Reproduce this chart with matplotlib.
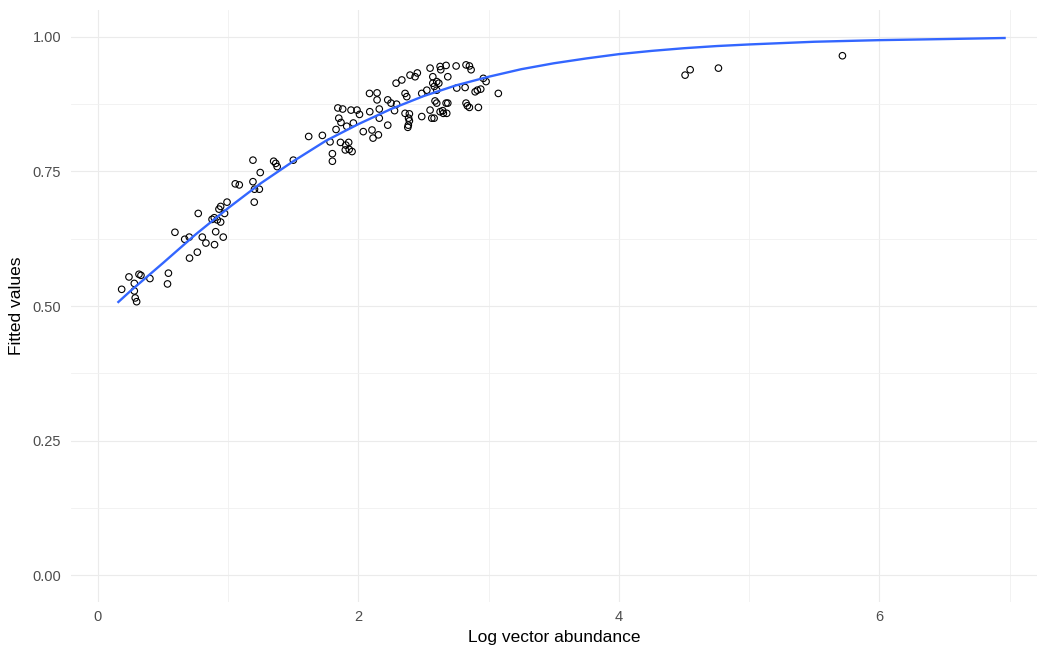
import numpy as np
import matplotlib
matplotlib.use("Agg")
import matplotlib.pyplot as plt
from matplotlib.ticker import MultipleLocator

# ====================================
# DATA
# ====================================

log_abundance = [
    0.182, 0.238, 0.279, 0.279, 0.286, 0.297, 0.315, 0.330, 0.399, 0.541,
    0.534, 0.591, 0.666, 0.701, 0.703, 0.763, 0.801, 0.829, 0.895, 0.904,
    0.962, 0.770, 0.876, 0.893, 0.916, 0.942, 0.929, 0.942, 0.972, 0.991,
    1.054, 1.085, 1.190, 1.190, 1.246, 1.202, 1.239, 1.200, 1.349, 1.365,
    1.376, 1.500, 1.618, 1.723, 1.782, 1.800, 1.800, 1.828, 1.842, 1.879,
    1.849, 1.866, 1.910, 1.943, 1.989, 2.008, 1.961, 1.862, 1.903, 1.925,
    1.899, 1.929, 1.951, 2.037, 2.087, 2.104, 2.112, 2.153, 2.085, 2.143,
    2.143, 2.160, 2.160, 2.225, 2.225, 2.250, 2.277, 2.293, 2.289, 2.333,
    2.358, 2.371, 2.358, 2.391, 2.385, 2.391, 2.383, 2.379, 2.396, 2.435,
    2.452, 2.486, 2.486, 2.525, 2.550, 2.550, 2.563, 2.581, 2.571, 2.571,
    2.583, 2.601, 2.601, 2.617, 2.627, 2.632, 2.673, 2.686, 2.588, 2.601,
    2.627, 2.647, 2.652, 2.673, 2.686, 2.678, 2.750, 2.755, 2.819, 2.826,
    2.852, 2.865, 2.826, 2.836, 2.852, 2.896, 2.913, 2.939, 2.921, 2.959,
    2.980, 3.074, 4.508, 4.547, 4.764, 5.716,
]

fitted_values = [
    0.531, 0.554, 0.542, 0.528, 0.515, 0.508, 0.559, 0.557, 0.551, 0.561,
    0.541, 0.637, 0.624, 0.628, 0.589, 0.600, 0.628, 0.617, 0.614, 0.638,
    0.628, 0.672, 0.661, 0.664, 0.660, 0.656, 0.680, 0.685, 0.672, 0.693,
    0.727, 0.725, 0.771, 0.731, 0.748, 0.717, 0.717, 0.693, 0.769, 0.765,
    0.759, 0.771, 0.815, 0.817, 0.805, 0.783, 0.769, 0.828, 0.868, 0.866,
    0.849, 0.841, 0.834, 0.864, 0.864, 0.856, 0.840, 0.804, 0.799, 0.804,
    0.790, 0.791, 0.787, 0.824, 0.861, 0.827, 0.812, 0.818, 0.895, 0.896,
    0.883, 0.866, 0.849, 0.836, 0.883, 0.877, 0.863, 0.875, 0.914, 0.920,
    0.895, 0.889, 0.858, 0.857, 0.849, 0.844, 0.836, 0.832, 0.929, 0.926,
    0.933, 0.852, 0.895, 0.901, 0.942, 0.864, 0.849, 0.849, 0.926, 0.914,
    0.908, 0.917, 0.901, 0.914, 0.945, 0.939, 0.947, 0.926, 0.881, 0.877,
    0.861, 0.863, 0.858, 0.877, 0.877, 0.858, 0.946, 0.905, 0.906, 0.948,
    0.946, 0.939, 0.877, 0.872, 0.869, 0.898, 0.901, 0.903, 0.869, 0.923,
    0.917, 0.895, 0.929, 0.939, 0.942, 0.965,
]

# smoothed trend line
trend_x = [0.15, 0.25, 0.5, 0.75, 1.0, 1.25, 1.5, 1.75, 2.0, 2.25, 2.5,
           2.75, 3.0, 3.25, 3.5, 3.75, 4.0, 4.25, 4.5, 4.75, 5.0, 5.5,
           6.0, 6.5, 6.97]
trend_y = [0.506, 0.528, 0.580, 0.633, 0.682, 0.728, 0.769, 0.807, 0.838,
           0.866, 0.890, 0.910, 0.926, 0.940, 0.951, 0.960, 0.968, 0.974,
           0.979, 0.983, 0.986, 0.991, 0.994, 0.996, 0.998]

# ====================================
# PLOT
# ====================================

plt.rcParams['font.family'] = ['Liberation Sans', 'DejaVu Sans']

fig = plt.figure(figsize=(10.39, 6.53), dpi=100)
ax = fig.add_axes([71 / 1039, 51 / 653, 966 / 1039, 592 / 653])

ax.scatter(log_abundance, fitted_values, s=22, facecolors='none',
           edgecolors='black', linewidths=0.8, zorder=3)
ax.plot(trend_x, trend_y, color='#3366FF', linewidth=1.7, zorder=4,
        solid_capstyle='butt')

ax.set_xlim(-0.207, 7.21)
ax.set_ylim(-0.05, 1.05)

ax.xaxis.set_major_locator(MultipleLocator(2))
ax.xaxis.set_minor_locator(MultipleLocator(1))
ax.yaxis.set_major_locator(MultipleLocator(0.25))
ax.yaxis.set_minor_locator(MultipleLocator(0.125))
ax.set_yticks([0, 0.25, 0.5, 0.75, 1.0])
ax.set_yticklabels(['0.00', '0.25', '0.50', '0.75', '1.00'])

ax.grid(which='major', color='#EBEBEB', linewidth=0.8, zorder=0)
ax.grid(which='minor', color='#F0F0F0', linewidth=0.6, zorder=0)
ax.set_axisbelow(True)

for spine in ax.spines.values():
    spine.set_visible(False)

ax.tick_params(which='both', length=0, labelsize=10.5, labelcolor='#4D4D4D')
ax.tick_params(axis='y', pad=7)
ax.tick_params(axis='x', pad=6)

ax.set_xlabel('Log vector abundance', fontsize=12.5, labelpad=4)
ax.set_ylabel('Fitted values', fontsize=12.5, labelpad=6)

fig.savefig('out.png', dpi=100, facecolor='white')
